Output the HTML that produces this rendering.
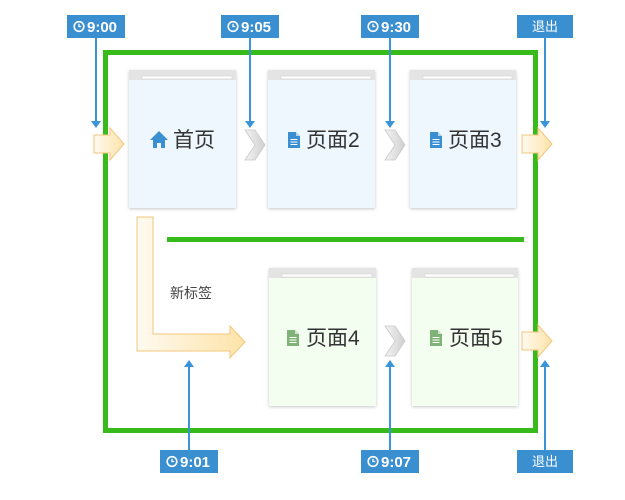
<!DOCTYPE html>
<html><head><meta charset="utf-8"><style>
html,body{margin:0;padding:0;background:#fff;}
svg{display:block;font-family:"Liberation Sans","Noto Sans CJK SC",sans-serif;}
</style></head><body>
<svg width="625" height="500" viewBox="0 0 625 500" xmlns="http://www.w3.org/2000/svg">
<defs>
<linearGradient id="ogh" x1="0" y1="0" x2="1" y2="0"><stop offset="0" stop-color="#fffaf0"/><stop offset="1" stop-color="#fde3a8"/></linearGradient>
<linearGradient id="chv" x1="0" y1="0" x2="1" y2="0"><stop offset="0" stop-color="#f4f4f4"/><stop offset="1" stop-color="#cfcfcf"/></linearGradient>
<filter id="sh" x="-10%" y="-10%" width="120%" height="120%"><feDropShadow dx="0" dy="1" stdDeviation="1.5" flood-color="#000" flood-opacity="0.22"/></filter>
<g id="clock"><circle cx="0" cy="0" r="4.8" fill="none" stroke="#fff" stroke-width="1.6"/><path d="M0 -2.6V0H2.2" fill="none" stroke="#fff" stroke-width="1.3"/></g>
<g id="chev"><path d="M0 0H10L20 15L10 30H0L10 15Z" fill="url(#chv)" stroke="#c8c8c8" stroke-width="0.8"/></g>
<g id="oarr"><path d="M0 7H16V0L30 16L16 32V25H0Z" fill="url(#ogh)" stroke="#f1c77e" stroke-width="1"/></g>
<g id="doc"><path d="M0 0H8L12 4V16H0Z" fill="currentColor"/><path d="M2.5 7.5H9.5M2.5 10H9.5M2.5 12.5H9.5" stroke="#fff" stroke-width="1"/><path d="M8 0V4H12" fill="#fff" opacity="0.6"/></g>
</defs>

<rect x="105.5" y="52.5" width="430" height="378" fill="none" stroke="#36bb1a" stroke-width="5"/>
<rect x="167" y="237" width="357" height="5" fill="#36bb1a"/>

<g filter="url(#sh)">
<rect x="129" y="70" width="107" height="138" fill="#eef7fe"/>
<rect x="268" y="70" width="107" height="138" fill="#eef7fe"/>
<rect x="410" y="70" width="106" height="138" fill="#eef7fe"/>
<rect x="269" y="268" width="107" height="138" fill="#f3fdf0"/>
<rect x="412" y="268" width="106" height="138" fill="#f3fdf0"/>
</g>
<g fill="#e4e4e4">
<rect x="129" y="70" width="107" height="10"/><rect x="268" y="70" width="107" height="10"/><rect x="410" y="70" width="106" height="10"/>
<rect x="269" y="268" width="107" height="10"/><rect x="412" y="268" width="106" height="10"/>
</g>
<g fill="#fff" stroke="#ccc" stroke-width="0.5">
<rect x="142" y="76" width="90" height="3"/><rect x="281" y="76" width="90" height="3"/><rect x="423" y="76" width="89" height="3"/>
<rect x="282" y="274" width="90" height="3"/><rect x="425" y="274" width="89" height="3"/>
</g>

<g font-size="21" fill="#333">
<text x="173" y="147">首页</text>
<text x="306" y="147">页面2</text>
<text x="448" y="147">页面3</text>
<text x="306" y="345">页面4</text>
<text x="449" y="345">页面5</text>
</g>
<path d="M150 140L159 131L168 140H165V148H161V143H157V148H153V140Z" fill="#3a8fd2"/>
<use href="#doc" x="288" y="132" style="color:#3a8fd2"/>
<use href="#doc" x="430" y="132" style="color:#3a8fd2"/>
<use href="#doc" x="287" y="330" style="color:#7fb377"/>
<use href="#doc" x="430" y="330" style="color:#7fb377"/>

<use href="#chev" x="245" y="130"/>
<use href="#chev" x="385" y="130"/>
<use href="#chev" x="385" y="326"/>

<use href="#oarr" x="94" y="128"/>
<use href="#oarr" x="522" y="128"/>
<use href="#oarr" x="522" y="325"/>
<path d="M137 217H153V334H230V326L245 342L230 358V351H137Z" fill="url(#ogh)" stroke="#f1c77e" stroke-width="1"/>
<text x="170" y="298" font-size="14" fill="#444">新标签</text>

<g stroke="#3a94d8" stroke-width="2" fill="none">
<path d="M96 37V122"/><path d="M250 37V122"/><path d="M390 37V122"/><path d="M545 37V122"/>
<path d="M189 450V366"/><path d="M390 450V366"/><path d="M545 450V366"/>
</g>
<g fill="#3a94d8">
<path d="M91 121H101L96 128Z"/><path d="M245 121H255L250 128Z"/><path d="M385 121H395L390 128Z"/><path d="M540 121H550L545 128Z"/>
<path d="M184 367H194L189 360Z"/><path d="M385 367H395L390 360Z"/><path d="M540 367H550L545 360Z"/>
</g>

<g fill="#3a8fd0">
<rect x="67" y="15" width="58" height="23"/>
<rect x="221" y="15" width="58" height="23"/>
<rect x="361" y="15" width="58" height="23"/>
<rect x="517" y="15" width="56" height="23"/>
<rect x="160" y="450" width="58" height="23"/>
<rect x="361" y="450" width="58" height="23"/>
<rect x="517" y="450" width="56" height="23"/>
</g>
<use href="#clock" x="79" y="26.5"/><use href="#clock" x="233" y="26.5"/><use href="#clock" x="373" y="26.5"/>
<use href="#clock" x="172" y="461.5"/><use href="#clock" x="373" y="461.5"/>
<g fill="#fff" font-size="15" font-weight="bold">
<text x="87" y="32">9:00</text>
<text x="241" y="32">9:05</text>
<text x="381" y="32">9:30</text>
<text x="180" y="467">9:01</text>
<text x="381" y="467">9:07</text>
</g>
<g fill="#fff" font-size="13">
<text x="545" y="31" text-anchor="middle">退出</text>
<text x="545" y="466" text-anchor="middle">退出</text>
</g>
</svg>
</body></html>
